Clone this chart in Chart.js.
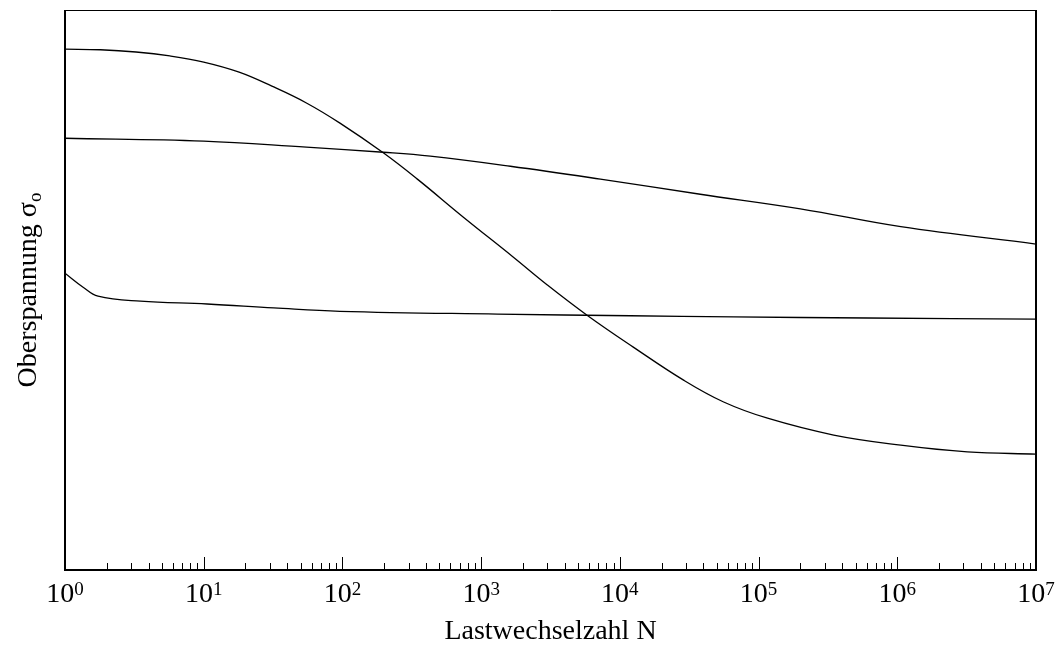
<!DOCTYPE html>
<html>
<head>
<meta charset="utf-8">
<script src="https://cdn.jsdelivr.net/npm/chart.js@4/dist/chart.umd.min.js"></script>
<style>
  html, body { margin: 0; padding: 0; background: #fff; }
  #wrap { width: 1059px; height: 646px; }
</style>
</head>
<body>
<div id="wrap"><canvas id="c" width="1059" height="646"></canvas></div>
<script>
// Lastwechselzahl N (log axis) and Oberspannung (no scale, relative units 0..100)
var decades = [0, 1, 2, 3, 4, 5, 6, 7];
var xTitle = 'Lastwechselzahl N';
var yTitle = 'Oberspannung σ';
var yTitleSub = 'o';

// upper S-shaped curve
var nA = [1, 1.8, 3.25, 5.7, 10, 18, 31, 55, 96, 197, 347, 745, 1700, 3000, 5800, 12500, 28800, 56000, 116000, 348000, 1.06e6, 3.2e6, 1e7];
var sA = [93.0, 92.9, 92.5, 91.8, 90.7, 88.9, 86.4, 83.4, 79.8, 74.5, 69.8, 63.0, 55.9, 50.9, 45.5, 39.8, 33.9, 30.0, 27.1, 24.1, 22.3, 21.1, 20.7];

// middle, slowly falling curve
var nB = [1, 10, 55, 197, 430, 1625, 7240, 38000, 200000, 1.06e6, 1e7];
var sB = [77.1, 76.6, 75.5, 74.6, 73.9, 72.1, 69.8, 67.1, 64.5, 61.3, 58.2];

// lower, nearly flat curve
var nC = [1, 1.35, 1.73, 3.5, 10.6, 32, 96, 1310, 11900, 66000, 611000, 1e7];
var sC = [53.0, 50.5, 48.9, 48.0, 47.5, 46.8, 46.2, 45.7, 45.4, 45.2, 45.0, 44.8];

var FONT = '"Liberation Serif", "Times New Roman", serif';

function toPoints(ns, ss) {
    return ns.map(function (n, i) { return { x: n, y: ss[i] }; });
}

function lineSet(ns, ss) {
    return {
        data: toPoints(ns, ss),
        borderColor: '#000',
        borderWidth: 1.3,
        pointRadius: 0,
        fill: false,
        tension: 0.4
    };
}

var framePlugin = {
    id: 'frame',
    afterDraw: function (chart) {
        var ctx = chart.ctx;
        var a = chart.chartArea;
        var xs = chart.scales.x;
        ctx.save();

        // box
        ctx.strokeStyle = '#000';
        ctx.lineWidth = 1;
        ctx.beginPath();
        ctx.moveTo(a.left, a.top + 0.5);
        ctx.lineTo(a.right, a.top + 0.5);
        ctx.stroke();
        ctx.lineWidth = 2;
        ctx.beginPath();
        ctx.moveTo(a.left, a.top);
        ctx.lineTo(a.left, a.bottom);
        ctx.lineTo(a.right, a.bottom);
        ctx.lineTo(a.right, a.top);
        ctx.stroke();

        // inward log ticks
        ctx.lineWidth = 1;
        ctx.beginPath();
        for (var d = 0; d < 7; d++) {
            for (var m = 1; m <= 9; m++) {
                var px = Math.round(xs.getPixelForValue(m * Math.pow(10, d))) + 0.5;
                var len = m === 1 ? 13 : 7;
                ctx.moveTo(px, a.bottom);
                ctx.lineTo(px, a.bottom - len);
            }
        }
        ctx.stroke();

        // tick labels 10^k
        ctx.fillStyle = '#000';
        ctx.textBaseline = 'alphabetic';
        ctx.textAlign = 'left';
        decades.forEach(function (k) {
            var px = xs.getPixelForValue(Math.pow(10, k));
            ctx.font = '28px ' + FONT;
            var wb = ctx.measureText('10').width;
            ctx.font = '19px ' + FONT;
            var ws = ctx.measureText(String(k)).width;
            var x0 = px - (wb + ws) / 2;
            ctx.font = '28px ' + FONT;
            ctx.fillText('10', x0, a.bottom + 32);
            ctx.font = '19px ' + FONT;
            ctx.fillText(String(k), x0 + wb, a.bottom + 25);
        });

        // x title
        ctx.font = '28px ' + FONT;
        ctx.textAlign = 'center';
        ctx.fillText(xTitle, (a.left + a.right) / 2, a.bottom + 69);

        // y title with subscript
        ctx.translate(36, (a.top + a.bottom) / 2);
        ctx.rotate(-Math.PI / 2);
        ctx.textAlign = 'left';
        ctx.font = '28px ' + FONT;
        var w1 = ctx.measureText(yTitle).width;
        ctx.font = '19px ' + FONT;
        var w2 = ctx.measureText(yTitleSub).width;
        var sx = -(w1 + w2) / 2;
        ctx.font = '28px ' + FONT;
        ctx.fillText(yTitle, sx, 0);
        ctx.font = '19px ' + FONT;
        ctx.fillText(yTitleSub, sx + w1, 5);
        ctx.restore();
    }
};

new Chart(document.getElementById('c').getContext('2d'), {
    type: 'line',
    data: {
        datasets: [lineSet(nA, sA), lineSet(nB, sB), lineSet(nC, sC)]
    },
    options: {
        responsive: false,
        animation: false,
        layout: { padding: { left: 65, top: 10, right: 23, bottom: 76 } },
        plugins: {
            legend: { display: false },
            tooltip: { enabled: false }
        },
        scales: {
            x: { type: 'logarithmic', min: 1, max: 1e7, display: false },
            y: { type: 'linear', min: 0, max: 100, display: false }
        }
    },
    plugins: [framePlugin]
});
</script>
</body>
</html>
